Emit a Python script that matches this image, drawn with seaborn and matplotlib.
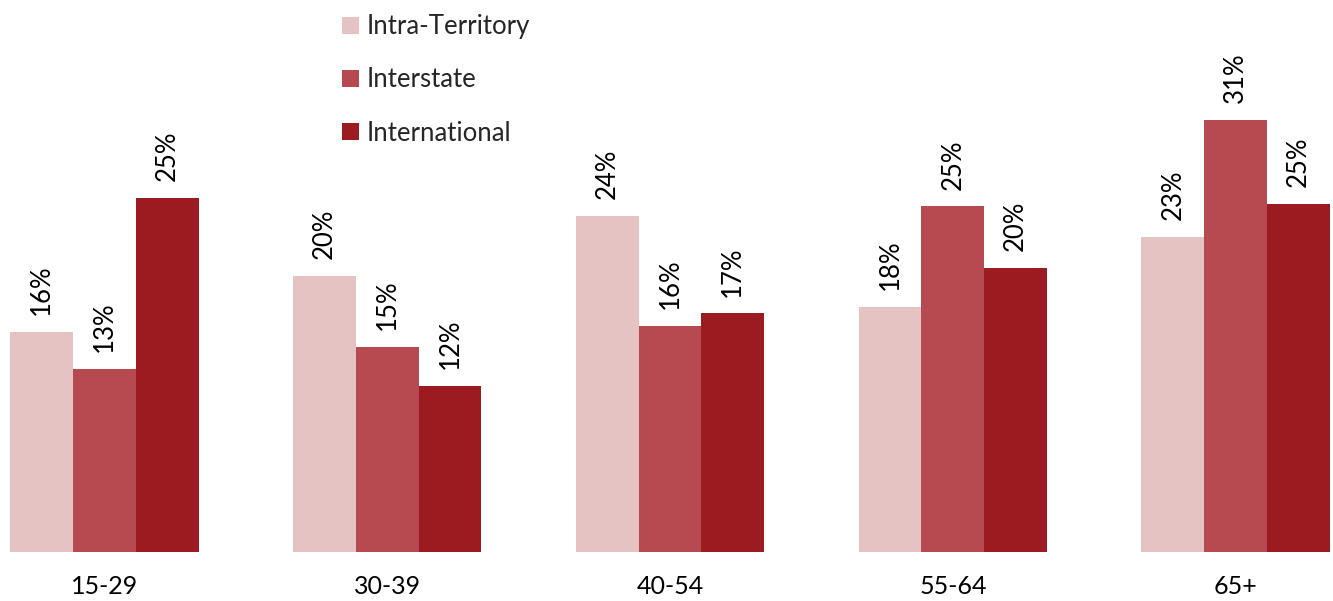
import pandas as pd
import seaborn as sns
import matplotlib.pyplot as plt

age_groups = ["15-29", "30-39", "40-54", "55-64", "65+"]
series = ["Intra-Territory", "Interstate", "International"]
intra_territory = [15.8, 19.8, 24.1, 17.6, 22.6]
interstate = [13.1, 14.7, 16.2, 24.8, 31.0]
international = [25.4, 11.9, 17.1, 20.4, 25.0]
colors = ["#E6C3C3", "#B74A50", "#9B1B21"]

rows = []
for name, vals in zip(series, [intra_territory, interstate, international]):
    for age, v in zip(age_groups, vals):
        rows.append({"age": age, "type": name, "value": v})
df = pd.DataFrame(rows)

sns.set_theme(style="white")
plt.rcParams["font.family"] = ["Lato", "DejaVu Sans"]

fig = plt.figure(figsize=(13.33, 6.01), dpi=100)
ax = fig.add_axes([10 / 1333, 49.5 / 601, 1320 / 1333, 551.5 / 601])

sns.barplot(data=df, x="age", y="value", hue="type", palette=colors,
            saturation=1, width=2 / 3, errorbar=None, linewidth=0, ax=ax)

for cont in ax.containers:
    ax.bar_label(cont, labels=[f"{b.get_height():.0f}%" for b in cont],
                 rotation=90, padding=12, fontsize=18.5, color="black")

ax.set_xlim(-1 / 3, 4 + 1 / 3)
ax.set_ylim(0, 551.5 / 13.92)
ax.set_xlabel("")
ax.set_ylabel("")
ax.set_yticks([])
ax.tick_params(axis="x", length=0, labelsize=18, pad=17, colors="black")
sns.despine(ax=ax, left=True, bottom=True)

ax.legend(loc="upper left", bbox_to_anchor=(328 / 1333, 1.0),
          bbox_transform=fig.transFigure, frameon=False, fontsize=18.5,
          handlelength=0.65, handleheight=0.65, handletextpad=0.3,
          labelspacing=1.1, borderaxespad=0.15)

fig.savefig("out.png", dpi=100)
